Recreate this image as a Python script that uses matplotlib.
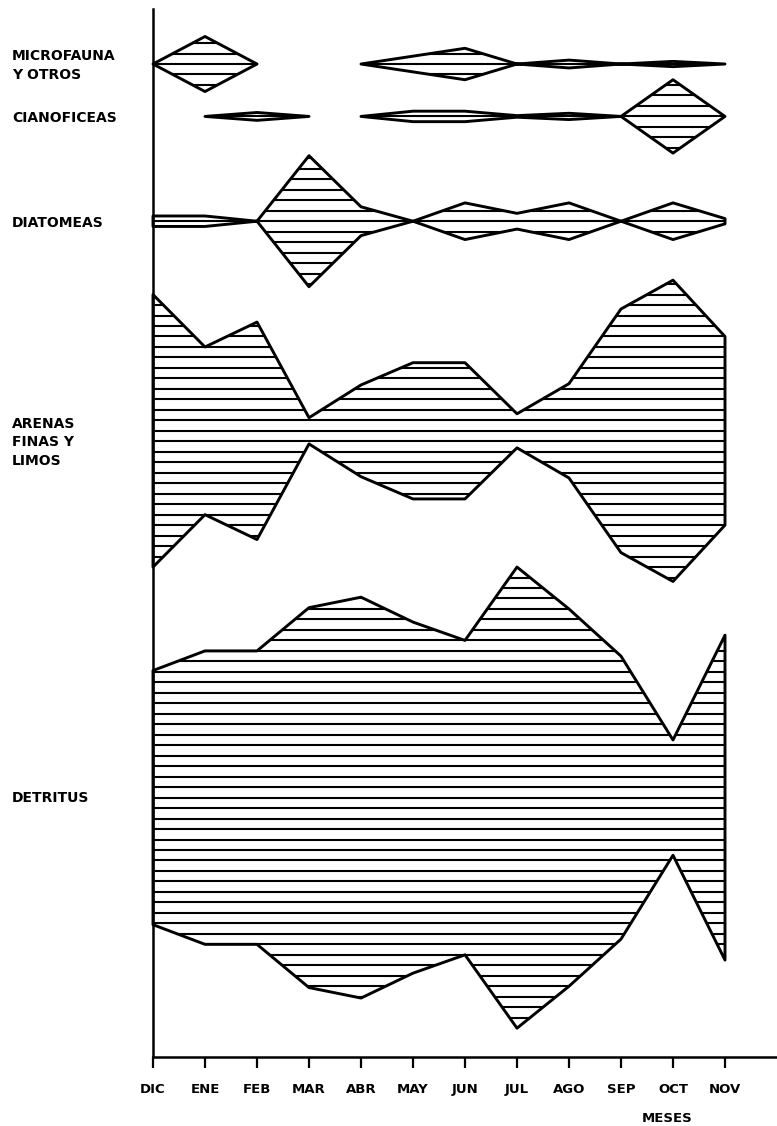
import numpy as np
import matplotlib.pyplot as plt
from matplotlib.patches import Polygon
from matplotlib import transforms

plt.rcParams['font.family'] = ['DejaVu Sans']

meses = ['DIC', 'ENE', 'FEB', 'MAR', 'ABR', 'MAY', 'JUN', 'JUL', 'AGO', 'SEP', 'OCT', 'NOV']

# porcentaje de cada componente por mes (ancho total de la cometa)
microfauna = [0, 10.5, 0, 0, 0, 3, 6, 0, 1.5, 0, 1, 0]
cianoficeas = [0, 0, 1.5, 0, 0, 2, 2, 0.3, 1.2, 0, 14, 0]
diatomeas = [2, 2, 0, 25, 5.5, 0, 7, 3, 7, 0, 7, 1]
arenas = [52, 32, 41.5, 5, 17.5, 26, 26, 6.5, 18, 46.5, 57.5, 36]
detritus = [48.5, 56, 56, 72.5, 76.5, 67, 60, 88, 72, 54, 22, 62]

componentes = ['MICROFAUNA\nY OTROS', 'CIANOFICEAS', 'DIATOMEAS', 'ARENAS\nFINAS Y\nLIMOS', 'DETRITUS']
series = [microfauna, cianoficeas, diatomeas, arenas, detritus]
centros = [190, 180, 160, 120, 50]
pos_etiqueta = [189.7, 179.7, 159.6, 117.8, 50]


def tramos(w):
    # tramos consecutivos donde al menos un extremo tiene valor
    dibuja = [w[i] > 0 or w[i + 1] > 0 for i in range(len(w) - 1)]
    res = []
    ini = None
    for i, d in enumerate(dibuja):
        if d and ini is None:
            ini = i
        if not d and ini is not None:
            res.append((ini, i))
            ini = None
    if ini is not None:
        res.append((ini, len(w) - 1))
    return res


fig = plt.figure(figsize=(7.77, 11.26), dpi=100)
ax = fig.add_axes([153 / 777, 69 / 1126, 624 / 777, 1048 / 1126])

x = np.arange(len(meses))
for w, c in zip(series, centros):
    w = np.array(w, dtype=float)
    for s, e in tramos(w):
        xs = x[s:e + 1]
        arriba = c + w[s:e + 1] / 2
        abajo = c - w[s:e + 1] / 2
        verts = list(zip(xs, arriba)) + list(zip(xs[::-1], abajo[::-1]))
        poly = Polygon(verts, closed=True, fc='none', ec='black', lw=2.1,
                       joinstyle='round', clip_on=False, zorder=3)
        ax.add_patch(poly)
        n = int(np.ceil(w[s:e + 1].max() / 4)) + 1
        ys = c + 2 * np.arange(-n, n + 1)
        rayas = ax.hlines(ys, xs[0], xs[-1], colors='black', lw=1.5, zorder=2)
        rayas.set_clip_path(poly)

ax.set_xlim(0, 12)
ax.set_ylim(0.5, 200.5)
ax.set_xticks(x)
ax.set_xticklabels(meses, fontweight='bold', fontsize=9.5)
ax.set_yticks([])
ax.tick_params(axis='x', length=8, width=1.6, direction='out', pad=11)
for lado in ['top', 'right']:
    ax.spines[lado].set_visible(False)
for lado in ['left', 'bottom']:
    ax.spines[lado].set_linewidth(1.8)

trans = transforms.blended_transform_factory(fig.transFigure, ax.transData)
for nombre, y in zip(componentes, pos_etiqueta):
    ax.text(12 / 777, y, nombre, transform=trans, ha='left', va='center',
            fontsize=10, fontweight='bold', linespacing=1.4)

fig.text(667 / 777, 1 - 1118 / 1126, 'MESES', ha='center', va='center',
         fontsize=9.5, fontweight='bold')

fig.savefig('out.png', dpi=100, facecolor='white')
